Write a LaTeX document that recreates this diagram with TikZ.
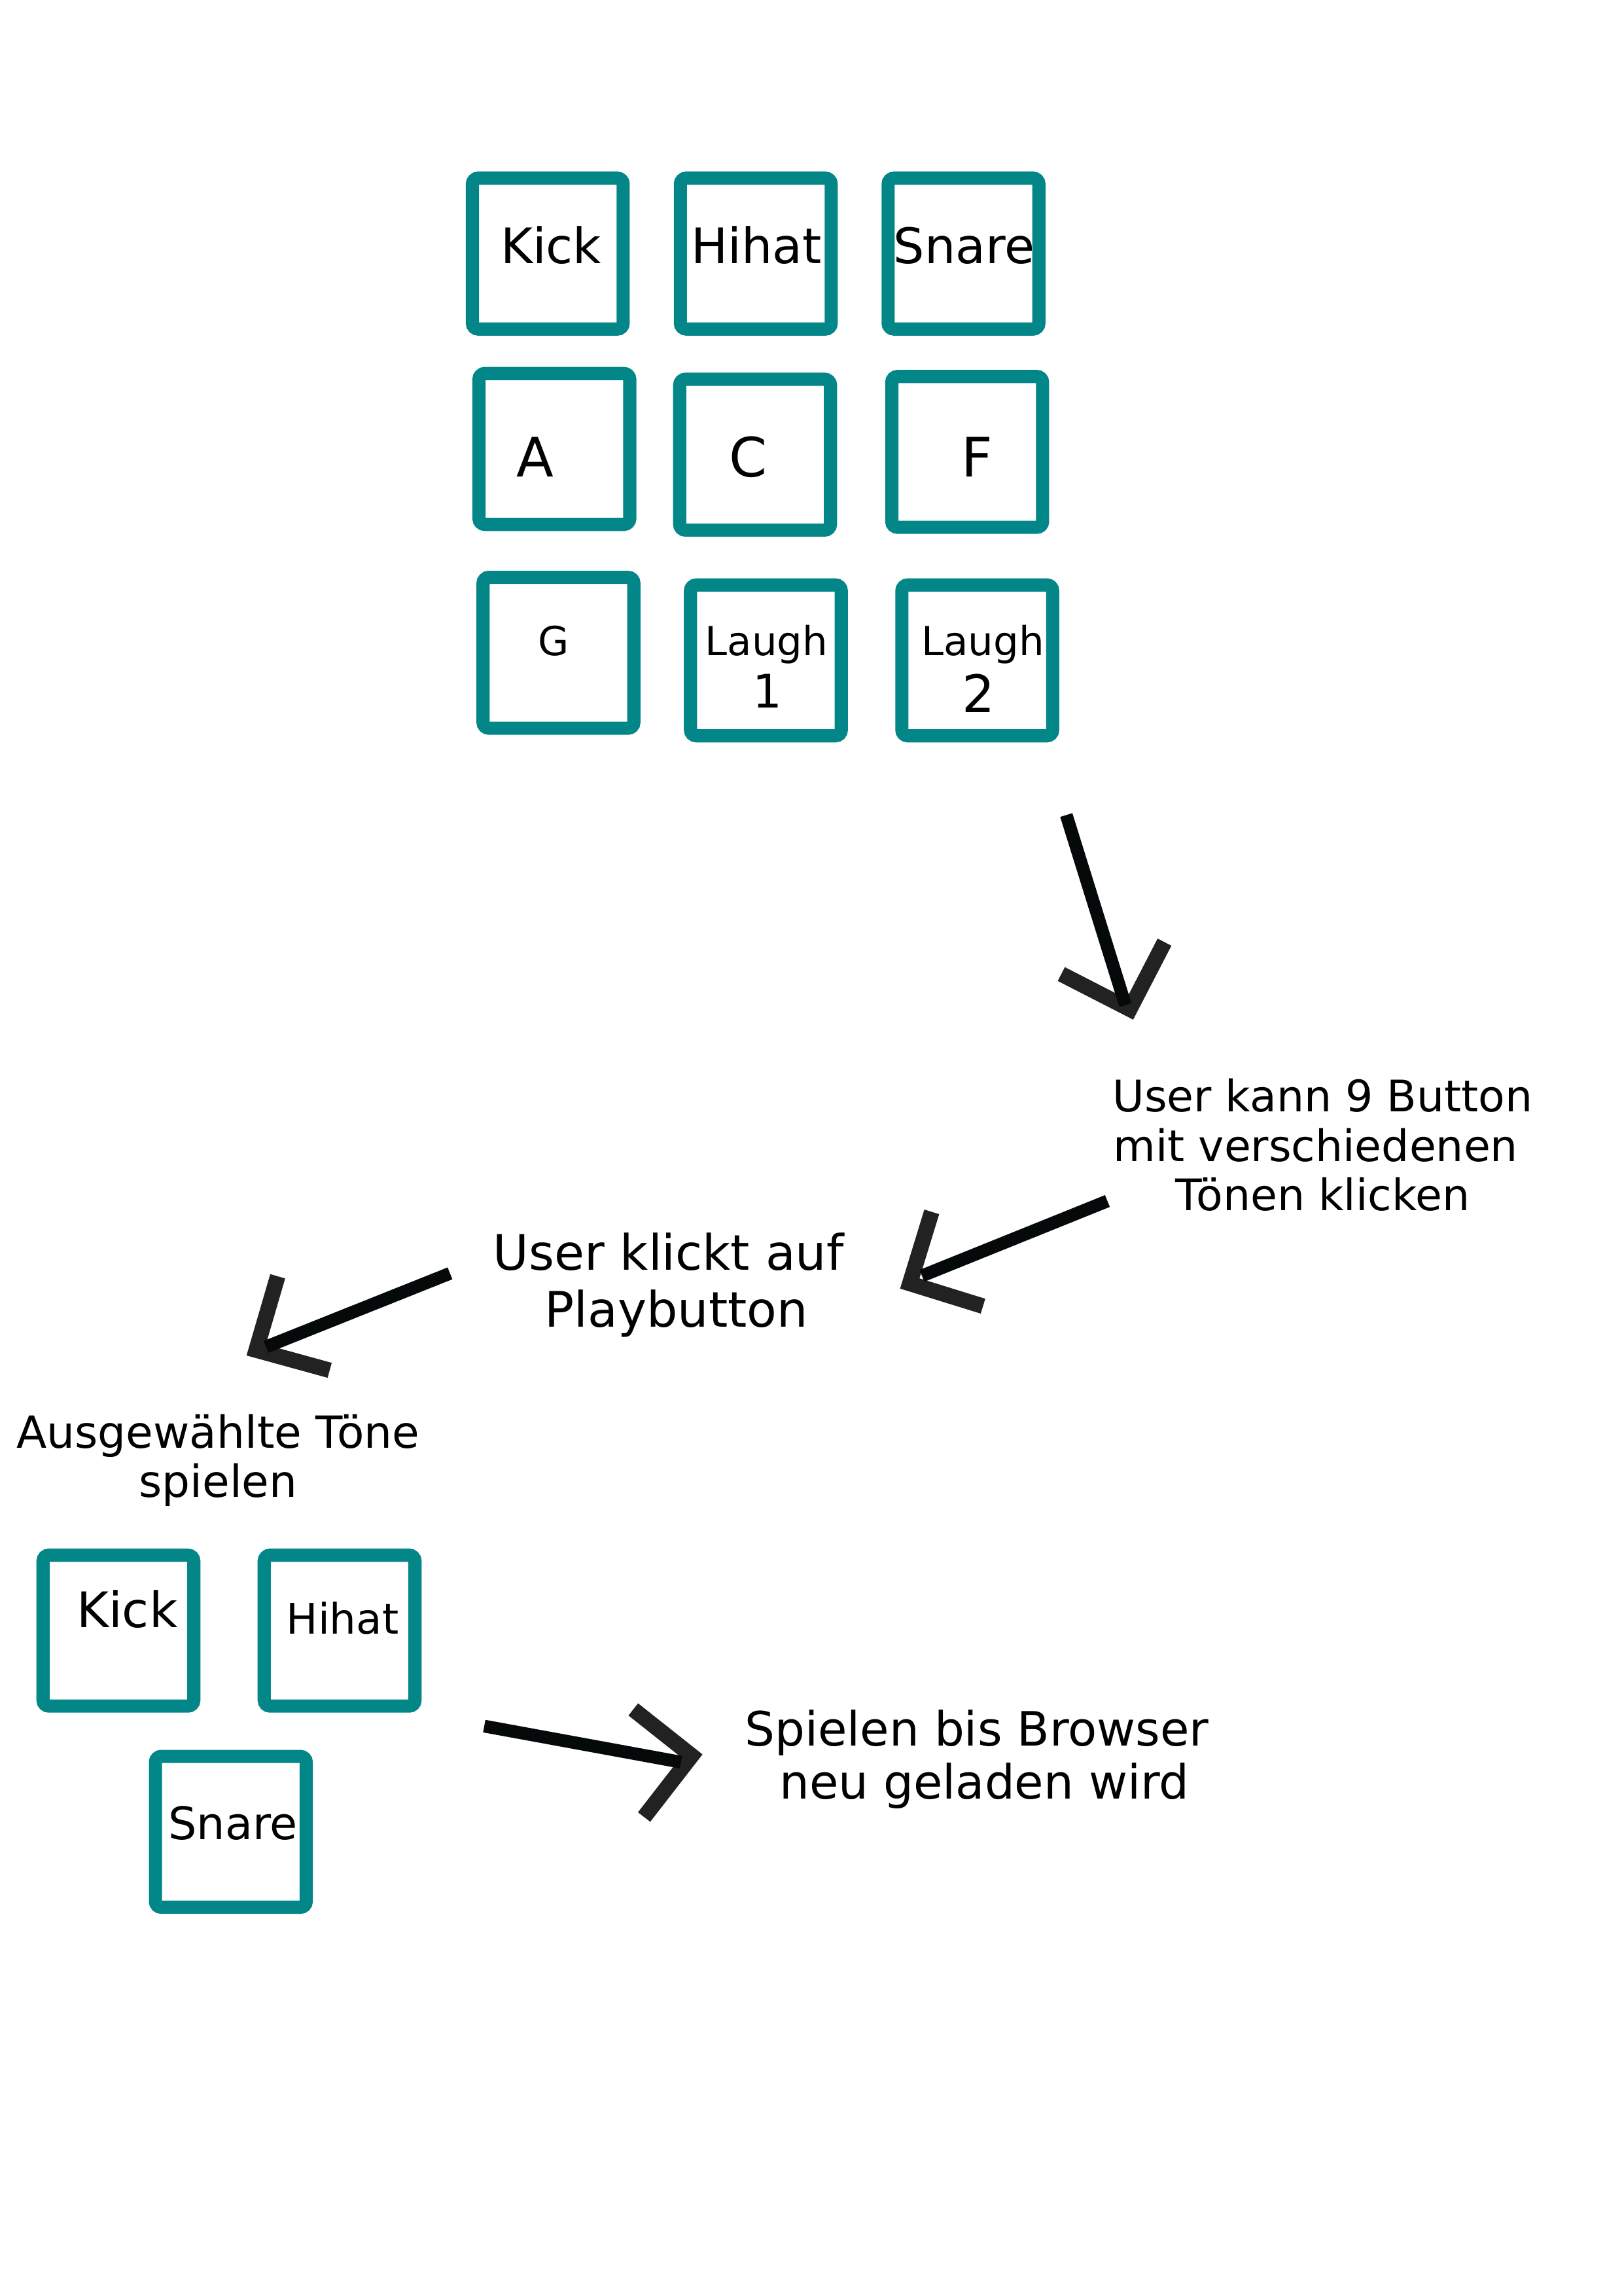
\documentclass[tikz,border=0pt]{standalone}
\usepackage{fontspec}
\setmainfont{DejaVu Sans}
\definecolor{padteal}{RGB}{3,134,136}
\definecolor{shaftcol}{RGB}{6,9,9}
\definecolor{headcol}{RGB}{34,34,34}
\newcommand{\trailsp}{\rule{0.32em}{0pt}}
\begin{document}
\begin{tikzpicture}[x=0.018936cm,y=-0.018936cm,
  pad/.style={draw=padteal,line width=4.85pt,rounded corners=2.15pt,
    minimum width=55.5pt,minimum height=55.5pt,inner sep=0pt},
  lbl/.style={anchor=base,inner sep=0pt},
  shaft/.style={draw=shaftcol,line width=4.69pt},
  head/.style={draw=headcol,line width=5.71pt,miter limit=10},
  txt/.style={align=center,inner sep=0pt}]
\useasboundingbox[fill=white] (0,0) rectangle (1109,1568);

% --- top grid of pads ---
\node[pad] (kickbox)  at (374.2,173.2) {};
\node[pad] (hihatbox) at (516.3,173.2) {};
\node[pad] (snarebox) at (658.2,173.2) {};
\node[pad] (abox)     at (378.7,306.6) {};
\node[pad] (cbox)     at (515.8,310.5) {};
\node[pad] (fbox)     at (660.7,308.6) {};
\node[pad] (gbox)     at (381.5,445.8) {};
\node[pad] (l1box)    at (523.2,451.0) {};
\node[pad] (l2box)    at (667.6,451.0) {};

\node[lbl,font=\fontsize{18}{20}\selectfont] (kick)  at (376.4,180) {Kick};
\node[lbl,font=\fontsize{18}{20}\selectfont] (hihat) at (516.6,180) {Hihat};
\node[lbl,font=\fontsize{18}{20}\selectfont] (snare) at (658.7,180) {Snare};
\node[lbl,font=\fontsize{20}{22}\selectfont] (la) at (365.7,325.6) {A};
\node[lbl,font=\fontsize{20}{22}\selectfont] (lc) at (511.1,325.6) {C};
\node[lbl,font=\fontsize{20}{22}\selectfont] (lf) at (667.3,325.6) {F};
\node[lbl,font=\fontsize{14.7}{16}\selectfont] (lg) at (378.4,447.5) {G};
\node[lbl,font=\fontsize{14.7}{16}\selectfont] (laugh1) at (523.6,447.5) {Laugh};
\node[lbl,font=\fontsize{17}{19}\selectfont] (one) at (524.3,483.4) {1};
\node[lbl,font=\fontsize{14.7}{16}\selectfont] (laugh2) at (671.5,447.5) {Laugh};
\node[lbl,font=\fontsize{19}{21}\selectfont] (two) at (668.7,486.7) {2};

% --- texts ---
\node[txt,font=\fontsize{16}{18.2}\selectfont] (t1) at (903.5,781.9)
  {User kann 9 Button\\mit verschiedenen\trailsp\\Tönen klicken};
\node[txt,font=\fontsize{18}{20.8}\selectfont] (t2) at (462,877.5)
  {User klickt auf\trailsp\\Playbutton};
\node[txt,font=\fontsize{16.3}{18}\selectfont] (t3) at (149,997.2)
  {Ausgewählte Töne\\spielen};
\node[txt,font=\fontsize{17.4}{19.4}\selectfont] (t4) at (672.5,1201.5)
  {Spielen bis Browser\trailsp\\neu geladen wird};

% --- bottom pads ---
\node[pad] (bkickbox)  at (80.9,1113.6) {};
\node[pad] (bhihatbox) at (232.0,1113.6) {};
\node[pad] (bsnarebox) at (157.7,1251.0) {};
\node[lbl,font=\fontsize{18}{20}\selectfont] (bkick)  at (86.8,1111.6) {Kick};
\node[lbl,font=\fontsize{15.5}{17}\selectfont] (bhihat) at (234,1115.9) {Hihat};
\node[lbl,font=\fontsize{16.5}{18}\selectfont] (bsnare) at (159.1,1256) {Snare};

% --- arrows ---
\coordinate (a1s) at (728.4,556.6);
\coordinate (a1e) at (768.8,686.4);
\coordinate (a1l) at (725,665.2);
\coordinate (a1t) at (771.8,689.2);
\coordinate (a1r) at (795.5,643.4);
\draw[head] (a1l) -- (a1t) -- (a1r);
\draw[shaft] (a1s) -- (a1e);

\coordinate (a2s) at (756.5,820.2);
\coordinate (a2e) at (629.8,871.3);
\coordinate (a2u) at (636.5,827.6);
\coordinate (a2t) at (621.5,876.5);
\coordinate (a2d) at (671.5,892);
\draw[head] (a2u) -- (a2t) -- (a2d);
\draw[shaft] (a2s) -- (a2e);

\coordinate (a3s) at (307.4,869.6);
\coordinate (a3e) at (181.7,919.8);
\coordinate (a3u) at (189.7,871.6);
\coordinate (a3t) at (175,922);
\coordinate (a3d) at (225.2,935.8);
\draw[head] (a3u) -- (a3t) -- (a3d);
\draw[shaft] (a3s) -- (a3e);

\coordinate (a4s) at (330.8,1178.8);
\coordinate (a4e) at (465.2,1203.4);
\coordinate (a4u) at (432.6,1167.4);
\coordinate (a4t) at (472.5,1199);
\coordinate (a4d) at (440,1240.9);
\draw[head] (a4u) -- (a4t) -- (a4d);
\draw[shaft] (a4s) -- (a4e);
\end{tikzpicture}
\end{document}
